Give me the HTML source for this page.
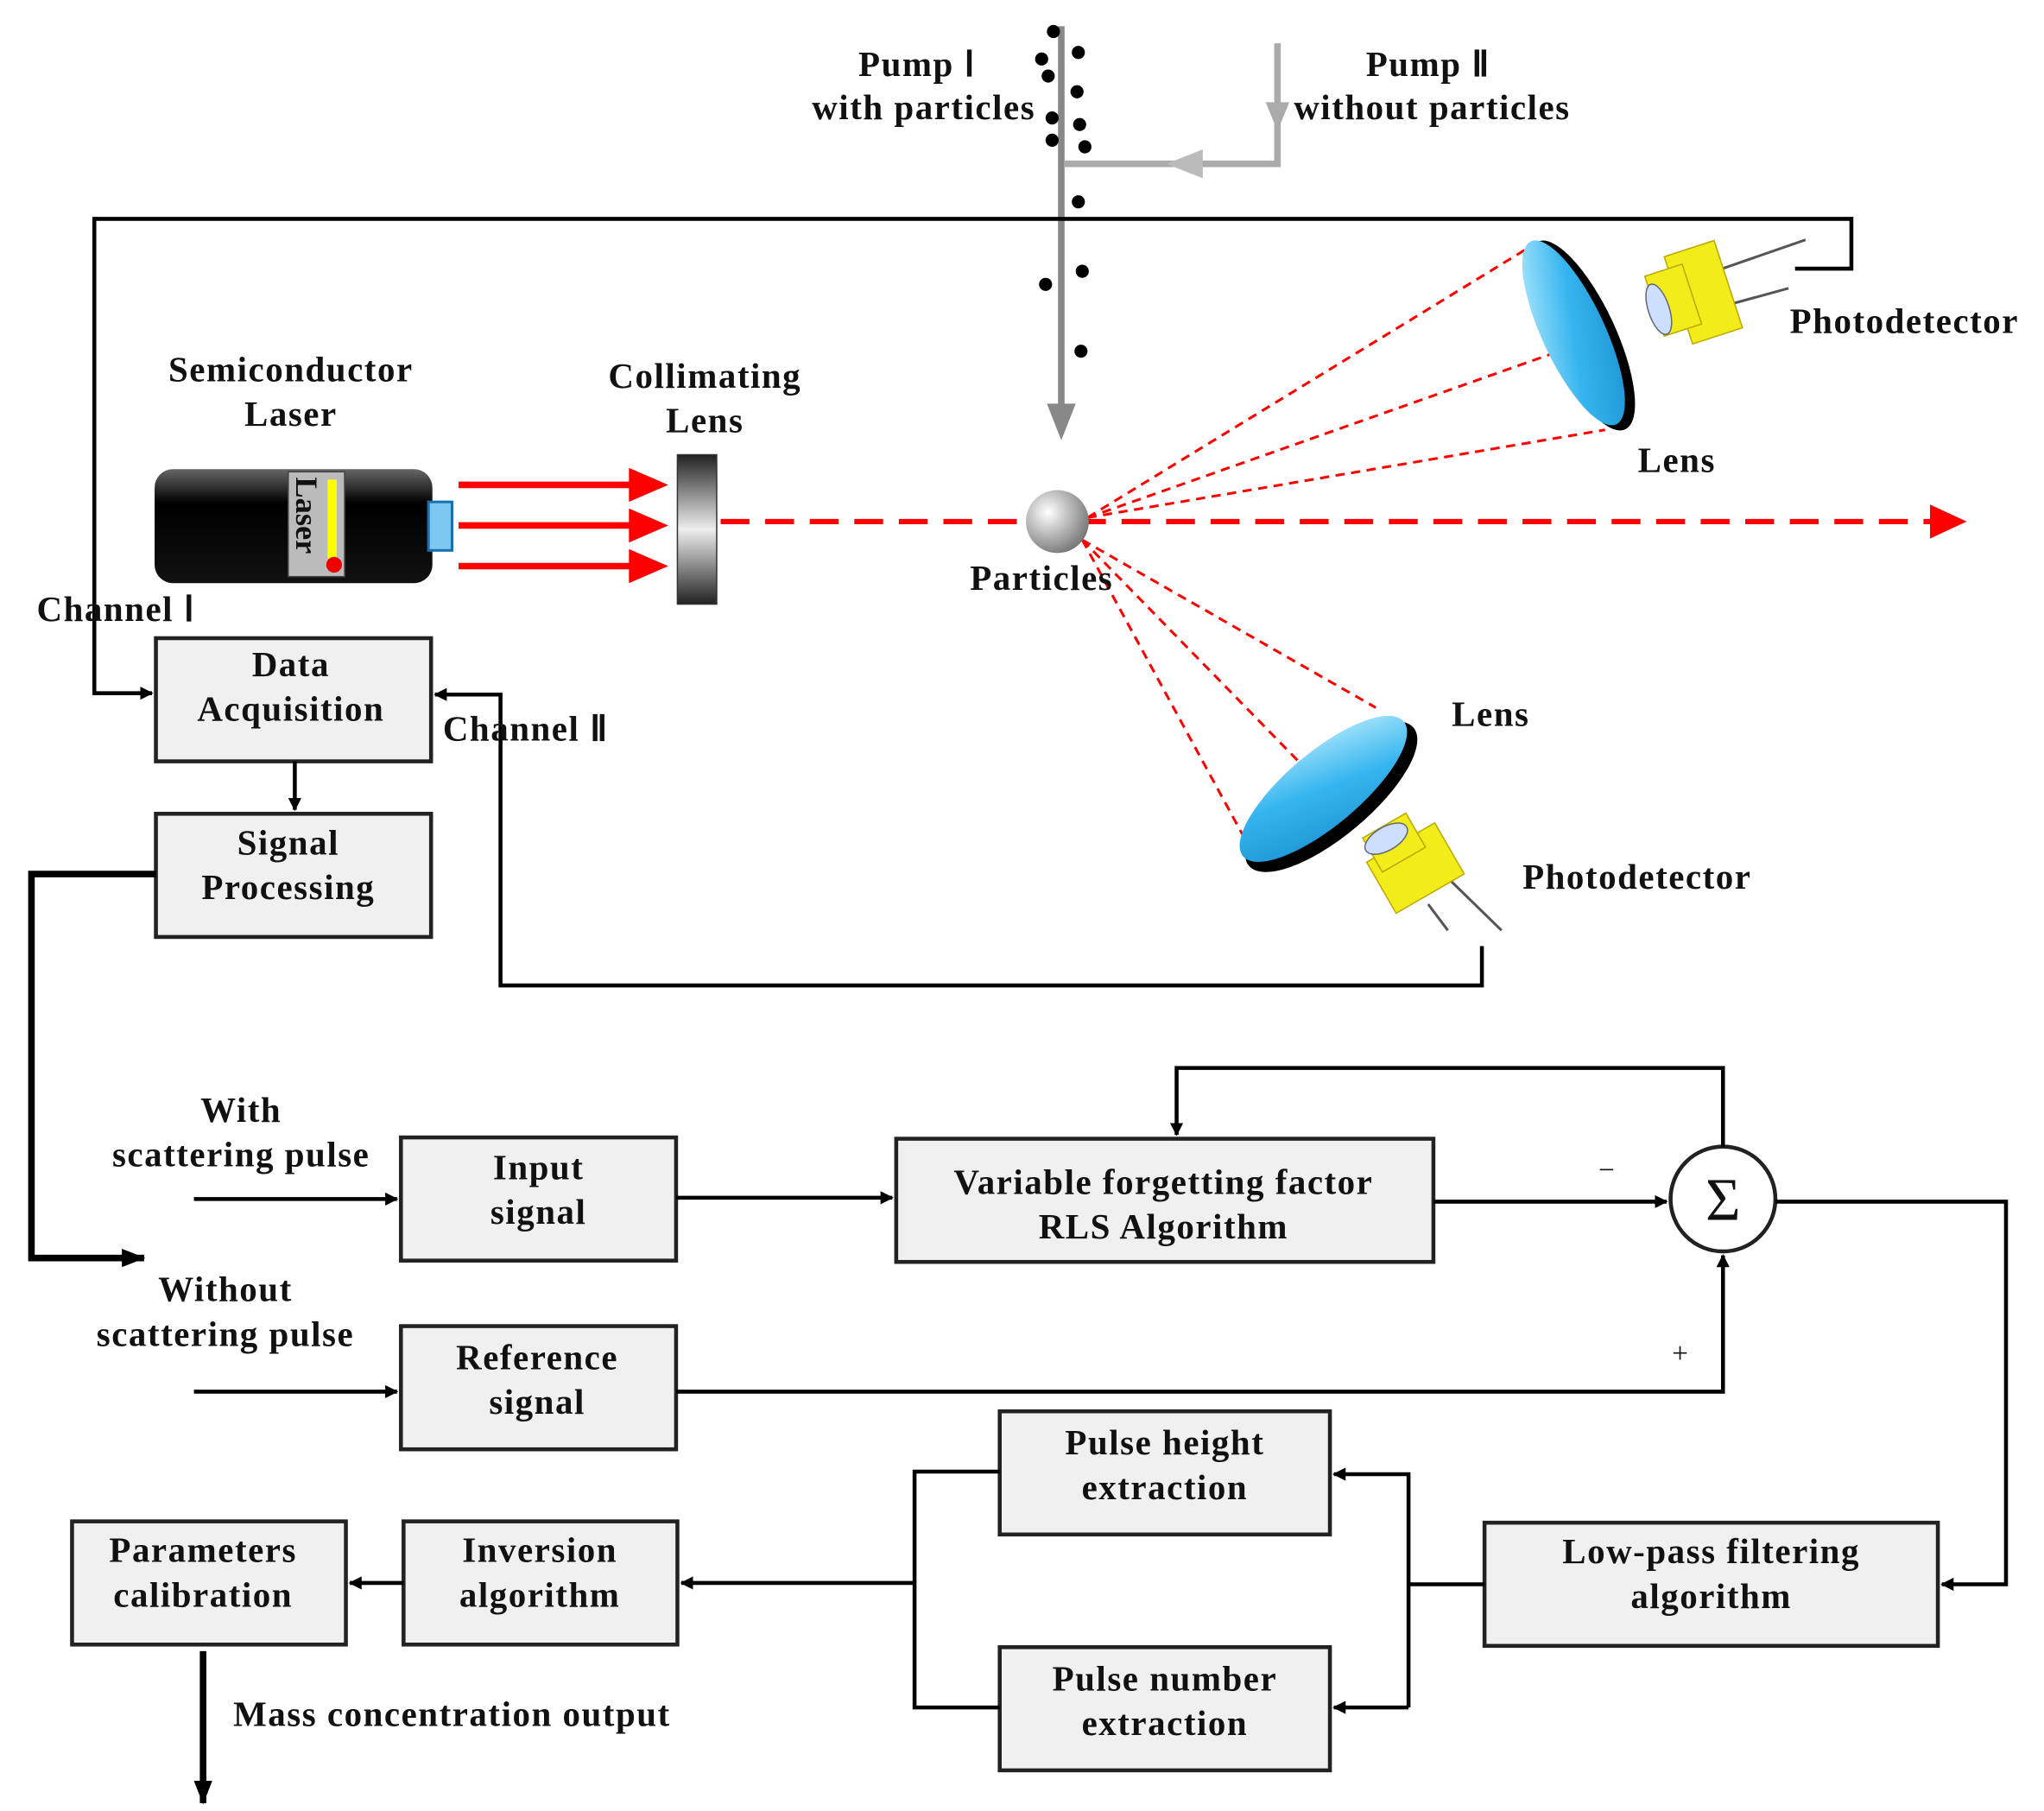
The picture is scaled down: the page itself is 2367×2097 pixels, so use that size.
<!DOCTYPE html>
<html><head><meta charset="utf-8"><style>
html,body{margin:0;padding:0;background:#fff}
svg{display:block}
text{font-family:"Liberation Serif",serif;font-weight:bold;fill:#111;font-size:27px;letter-spacing:1px}
</style></head><body>
<svg width="2367" height="2097" viewBox="0 0 1560 1382" xmlns="http://www.w3.org/2000/svg">
<defs>
<marker id="a" markerWidth="10" markerHeight="10" refX="9" refY="5" orient="auto" markerUnits="userSpaceOnUse"><path d="M0,0 L10,5 L0,10 z" fill="#000"/></marker>
<marker id="ab" markerWidth="18" markerHeight="14" refX="17" refY="7" orient="auto" markerUnits="userSpaceOnUse"><path d="M0,0 L18,7 L0,14 z" fill="#000"/></marker>
<marker id="ar" markerWidth="28" markerHeight="26" refX="27" refY="13" orient="auto" markerUnits="userSpaceOnUse"><path d="M0,0 L28,13 L0,26 z" fill="#f00"/></marker>
<linearGradient id="lb" x1="0" y1="0" x2="0" y2="1"><stop offset="0" stop-color="#666"/><stop offset="0.3" stop-color="#000"/><stop offset="1" stop-color="#111"/></linearGradient>
<linearGradient id="cl" x1="0" y1="0" x2="0" y2="1"><stop offset="0" stop-color="#222"/><stop offset="0.5" stop-color="#eee"/><stop offset="1" stop-color="#222"/></linearGradient>
<radialGradient id="sp" cx="0.35" cy="0.35" r="0.7"><stop offset="0" stop-color="#fff"/><stop offset="1" stop-color="#777"/></radialGradient>
<linearGradient id="bl" x1="0" y1="0" x2="1" y2="1"><stop offset="0" stop-color="#bfefff"/><stop offset="0.5" stop-color="#35b5ef"/><stop offset="1" stop-color="#1a8fd0"/></linearGradient>
</defs>

<text x="700" y="58" text-anchor="middle">Pump Ⅰ</text>
<text x="705" y="91" text-anchor="middle">with particles</text>
<text x="1090" y="58" text-anchor="middle">Pump Ⅱ</text>
<text x="1093" y="91" text-anchor="middle">without particles</text>
<line x1="810" y1="20" x2="810" y2="312" stroke="#888" stroke-width="5"/>
<path d="M799,308 L821,308 L810,336 z" fill="#888"/>
<polyline points="975,33 975,125 812,125" fill="none" stroke="#aaa" stroke-width="5"/>
<path d="M966,78 L984,78 L975,100 z" fill="#aaa"/>
<path d="M918,114 L918,136 L890,125 z" fill="#bbb"/>
<g fill="#000">
<circle cx="804" cy="24" r="5"/><circle cx="795" cy="45" r="5"/><circle cx="823" cy="40" r="5"/><circle cx="800" cy="58" r="5"/><circle cx="822" cy="70" r="5"/><circle cx="803" cy="90" r="5"/><circle cx="824" cy="95" r="5"/><circle cx="803" cy="107" r="5"/><circle cx="828" cy="112" r="5"/><circle cx="823" cy="154" r="5"/><circle cx="798" cy="217" r="5"/><circle cx="826" cy="207" r="5"/><circle cx="825" cy="268" r="5"/>
</g>

<polyline points="1370,205 1413,205 1413,167 72,167 72,529 116,529" fill="none" stroke="#000" stroke-width="3" marker-end="url(#a)"/>

<text x="222" y="291" text-anchor="middle">Semiconductor</text>
<text x="222" y="325" text-anchor="middle">Laser</text>
<rect x="118" y="358" width="212" height="87" rx="14" fill="url(#lb)"/>
<rect x="220" y="360" width="43" height="80" fill="#bbb" stroke="#444"/>
<rect x="250" y="366" width="7" height="60" fill="#ff0"/>
<circle cx="255" cy="431" r="6" fill="#e00"/>
<text x="0" y="0" transform="translate(226,364) rotate(90)" style="font-size:24px;letter-spacing:0">Laser</text>
<rect x="327" y="383" width="18" height="37" fill="#7cc8f0" stroke="#1a6fb0" stroke-width="2"/>
<g stroke="#f00" stroke-width="5">
<line x1="350" y1="370" x2="485" y2="370"/><line x1="350" y1="401" x2="485" y2="401"/><line x1="350" y1="432" x2="485" y2="432"/>
</g>
<g fill="#f00"><path d="M480,357 L510,370 L480,383z"/><path d="M480,388 L510,401 L480,414z"/><path d="M480,419 L510,432 L480,445z"/></g>
<text x="538" y="296" text-anchor="middle">Collimating</text>
<text x="538" y="330" text-anchor="middle">Lens</text>
<rect x="517" y="347" width="30" height="114" fill="url(#cl)" stroke="#333"/>
<line x1="550" y1="398" x2="1500" y2="398" stroke="#f00" stroke-width="4" stroke-dasharray="22,12" marker-end="url(#ar)"/>

<g stroke="#f00" stroke-width="2" stroke-dasharray="7,5" fill="none">
<line x1="830" y1="395" x2="1165" y2="190"/><line x1="830" y1="395" x2="1190" y2="268"/><line x1="830" y1="395" x2="1225" y2="328"/>
<line x1="826" y1="412" x2="950" y2="640"/><line x1="826" y1="412" x2="992" y2="582"/><line x1="826" y1="412" x2="1050" y2="540"/>
</g>
<circle cx="807" cy="398" r="24" fill="url(#sp)"/>
<text x="795" y="450" text-anchor="middle">Particles</text>

<ellipse cx="1207" cy="256" rx="26" ry="79" transform="rotate(-25 1207 256)" fill="#000"/>
<ellipse cx="1201" cy="254" rx="24" ry="77" transform="rotate(-25 1201 254)" fill="url(#bl)"/>
<text x="1250" y="360">Lens</text>
<g>
<line x1="1300" y1="210" x2="1378" y2="183" stroke="#555" stroke-width="2"/>
<line x1="1310" y1="235" x2="1365" y2="220" stroke="#555" stroke-width="2"/>
<rect x="1280" y="188" width="40" height="70" fill="#f2ec1a" stroke="#bba800" transform="rotate(-18 1300 223)"/>
<rect x="1262" y="205" width="30" height="48" fill="#f2ec1a" stroke="#bba800" transform="rotate(-18 1277 229)"/>
<ellipse cx="1266" cy="236" rx="8" ry="20" fill="#ccdfff" stroke="#667" transform="rotate(-18 1266 236)"/>
</g>
<text x="1366" y="254">Photodetector</text>

<ellipse cx="1016" cy="608" rx="30" ry="82" transform="rotate(50 1016 608)" fill="#000"/>
<ellipse cx="1010" cy="602" rx="28" ry="80" transform="rotate(50 1010 602)" fill="url(#bl)"/>
<text x="1108" y="554">Lens</text>
<g>
<line x1="1090" y1="690" x2="1105" y2="710" stroke="#555" stroke-width="2"/>
<line x1="1105" y1="670" x2="1146" y2="710" stroke="#555" stroke-width="2"/>
<rect x="1050" y="640" width="60" height="45" fill="#f2ec1a" stroke="#bba800" transform="rotate(-30 1080 662)"/>
<rect x="1045" y="628" width="38" height="30" fill="#f2ec1a" stroke="#bba800" transform="rotate(-30 1064 643)"/>
<ellipse cx="1058" cy="640" rx="18" ry="9" fill="#ccdfff" stroke="#667" transform="rotate(-30 1058 640)"/>
</g>
<text x="1162" y="678">Photodetector</text>

<polyline points="1131,722 1131,752 382,752 382,530 332,530" fill="none" stroke="#000" stroke-width="3" marker-end="url(#a)"/>
<text x="28" y="474">Channel Ⅰ</text>
<text x="338" y="565">Channel Ⅱ</text>

<g fill="#f0f0f0" stroke="#222" stroke-width="3">
<rect x="119" y="487" width="210" height="94"/>
<rect x="119" y="621" width="210" height="94"/>
<rect x="306" y="868" width="210" height="94"/>
<rect x="684" y="869" width="410" height="94"/>
<rect x="306" y="1012" width="210" height="94"/>
<rect x="763" y="1077" width="252" height="94"/>
<rect x="763" y="1257" width="252" height="94"/>
<rect x="1133" y="1162" width="346" height="94"/>
<rect x="308" y="1161" width="209" height="94"/>
<rect x="55" y="1161" width="209" height="94"/>
</g>
<circle cx="1315" cy="915" r="40" fill="#fff" stroke="#222" stroke-width="3"/>
<text x="1315" y="931" text-anchor="middle" style="font-size:46px;font-weight:normal;letter-spacing:0">Σ</text>

<text x="222" y="516" text-anchor="middle">Data</text>
<text x="222" y="550" text-anchor="middle">Acquisition</text>
<text x="220" y="652" text-anchor="middle">Signal</text>
<text x="220" y="686" text-anchor="middle">Processing</text>
<text x="411" y="900" text-anchor="middle">Input</text>
<text x="411" y="934" text-anchor="middle">signal</text>
<text x="888" y="911" text-anchor="middle">Variable forgetting factor</text>
<text x="888" y="945" text-anchor="middle">RLS Algorithm</text>
<text x="410" y="1045" text-anchor="middle">Reference</text>
<text x="410" y="1079" text-anchor="middle">signal</text>
<text x="889" y="1110" text-anchor="middle">Pulse height</text>
<text x="889" y="1144" text-anchor="middle">extraction</text>
<text x="889" y="1290" text-anchor="middle">Pulse number</text>
<text x="889" y="1324" text-anchor="middle">extraction</text>
<text x="1306" y="1193" text-anchor="middle">Low-pass filtering</text>
<text x="1306" y="1227" text-anchor="middle">algorithm</text>
<text x="412" y="1192" text-anchor="middle">Inversion</text>
<text x="412" y="1226" text-anchor="middle">algorithm</text>
<text x="155" y="1192" text-anchor="middle">Parameters</text>
<text x="155" y="1226" text-anchor="middle">calibration</text>

<text x="184" y="856" text-anchor="middle">With</text>
<text x="184" y="890" text-anchor="middle">scattering pulse</text>
<text x="172" y="993" text-anchor="middle">Without</text>
<text x="172" y="1027" text-anchor="middle">scattering pulse</text>
<text x="178" y="1317">Mass concentration output</text>
<text x="1220" y="900" style="font-weight:normal;font-size:22px">−</text>
<text x="1276" y="1040" style="font-weight:normal;font-size:22px">+</text>

<g fill="none" stroke="#000" stroke-width="3">
<line x1="225" y1="581" x2="225" y2="618" marker-end="url(#a)"/>
<polyline points="119,667 24,667 24,960 110,960" stroke-width="5" marker-end="url(#ab)"/>
<line x1="148" y1="915" x2="303" y2="915" marker-end="url(#a)"/>
<line x1="148" y1="1062" x2="303" y2="1062" marker-end="url(#a)"/>
<line x1="516" y1="914" x2="681" y2="914" marker-end="url(#a)"/>
<line x1="1094" y1="917" x2="1272" y2="917" marker-end="url(#a)"/>
<polyline points="1315,875 1315,815 898,815 898,866" marker-end="url(#a)"/>
<polyline points="516,1062 1315,1062 1315,958" marker-end="url(#a)"/>
<polyline points="1355,917 1531,917 1531,1209 1482,1209" marker-end="url(#a)"/>
<polyline points="1133,1209 1075,1209"/>
<polyline points="1075,1303 1075,1125 1018,1125" marker-end="url(#a)"/>
<line x1="1075" y1="1303" x2="1018" y2="1303" marker-end="url(#a)"/>
<polyline points="763,1123 698,1123 698,1303 763,1303"/>
<line x1="698" y1="1208" x2="520" y2="1208" marker-end="url(#a)"/>
<line x1="308" y1="1208" x2="267" y2="1208" marker-end="url(#a)"/>
<line x1="155" y1="1260" x2="155" y2="1376" stroke-width="5" marker-end="url(#ab)"/>
</g>
</svg>
</body></html>
